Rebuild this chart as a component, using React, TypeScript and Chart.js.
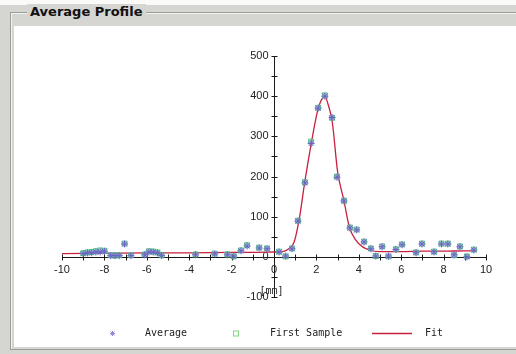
import React, { useEffect, useRef } from 'react';
import { Chart, registerables } from 'chart.js';

Chart.register(...registerables);

// ---- data ----
const averageX = [-9.0, -8.8, -8.6, -8.4, -8.2, -8.0, -7.7, -7.5, -7.3, -7.05, -6.75, -6.1, -5.9, -5.7, -5.5, -5.3, -3.7, -2.8, -2.2, -1.9, -1.56, -1.27, -0.7, -0.33, 0.24, 0.55, 0.85, 1.13, 1.46, 1.75, 2.08, 2.4, 2.74, 2.97, 3.3, 3.58, 3.9, 4.25, 4.57, 4.8, 5.1, 5.4, 5.75, 6.04, 6.7, 6.98, 7.55, 7.9, 8.2, 8.5, 8.77, 9.1, 9.43];
const averageY = [8, 10, 10, 12, 12, 14, 3, 3, 3, 32, 3, 5, 12, 12, 10, 3, 5, 7, 5, 2, 15, 27, 22, 20, 12, 2, 20, 89, 184, 282, 370, 400, 347, 198, 139, 72, 67, 37, 20, 2, 25, 2, 18, 30, 10, 32, 12, 32, 32, 5, 25, 0, 17];
const firstSampleX = [-9.0, -8.8, -8.6, -8.4, -8.2, -8.0, -7.7, -7.5, -7.3, -7.05, -6.75, -6.1, -5.9, -5.7, -5.5, -5.3, -3.7, -2.8, -2.2, -1.9, -1.56, -1.27, -0.7, -0.33, 0.24, 0.55, 0.85, 1.13, 1.46, 1.75, 2.08, 2.4, 2.74, 2.97, 3.3, 3.58, 3.9, 4.25, 4.57, 4.8, 5.1, 5.4, 5.75, 6.04, 6.7, 6.98, 7.55, 7.9, 8.2, 8.5, 8.77, 9.1, 9.43];
const firstSampleY = [9, 11, 12, 14, 16, 15, 4, 3, 4, 33, 4, 6, 14, 13, 11, 4, 6, 8, 6, 1, 16, 29, 23, 21, 13, 1, 21, 90, 186, 287, 371, 402, 346, 200, 140, 73, 68, 38, 21, 2, 26, 1, 19, 31, 11, 33, 13, 33, 33, 4, 26, 1, 18];
const fitX = [-10, -8, -6, -4, -2, -1, 0, 0.4, 0.7, 0.95, 1.2, 1.45, 1.75, 2.05, 2.25, 2.4, 2.55, 2.75, 3.0, 3.3, 3.55, 3.85, 4.15, 4.5, 5.0, 6, 7, 8, 9, 9.5];
const fitY = [8, 9, 10, 10, 11, 11, 12, 13, 20, 37, 97, 186, 280, 362, 392, 398, 380, 335, 212, 140, 75, 42, 26, 17, 13, 13, 14, 14, 15, 15];

const seriesNames = ['Average', 'First Sample', 'Fit'];
const xMin = -10, xMax = 10, xStep = 1, xLabelEvery = 2;
const yMin = -100, yMax = 500, yStep = 50, yLabelEvery = 100;
const axisUnit = '[mm]';

const FIT_COLOR = '#c8203f';
const AVG_COLOR = '#6f5fc8';
const SAMPLE_COLOR = '#5cc48c';
const TICK_FONT = '11px "Liberation Sans", Arial, sans-serif';

const toPoints = (xs: number[], ys: number[]) => xs.map((x, i) => ({ x, y: ys[i] }));

const axesPlugin = {
  id: 'centerAxes',
  beforeDatasetsDraw(chart: any) {
    const { ctx, scales } = chart;
    const xs = scales.x, ys = scales.y;
    const x0 = Math.round(xs.getPixelForValue(0)) + 0.5;
    const y0 = Math.round(ys.getPixelForValue(0)) + 0.5;
    ctx.save();
    ctx.strokeStyle = '#1a1a1a';
    ctx.lineWidth = 1;
    ctx.beginPath();
    ctx.moveTo(xs.getPixelForValue(xMin), y0);
    ctx.lineTo(xs.getPixelForValue(xMax), y0);
    ctx.moveTo(x0, ys.getPixelForValue(yMin));
    ctx.lineTo(x0, ys.getPixelForValue(yMax));
    xs.ticks.forEach((t: any) => {
      const px = Math.round(xs.getPixelForValue(t.value)) + 0.5;
      ctx.moveTo(px, y0 - 3);
      ctx.lineTo(px, y0 + 3);
    });
    ys.ticks.forEach((t: any) => {
      const py = Math.round(ys.getPixelForValue(t.value)) + 0.5;
      ctx.moveTo(x0 - 3, py);
      ctx.lineTo(x0 + 3, py);
    });
    ctx.stroke();

    // tick labels
    ctx.fillStyle = '#222';
    ctx.font = TICK_FONT;
    ctx.textAlign = 'center';
    ctx.textBaseline = 'top';
    xs.ticks.forEach((t: any) => {
      if (Math.round(t.value) % xLabelEvery !== 0) return;
      ctx.fillText(String(t.value), xs.getPixelForValue(t.value), y0 + 7);
    });
    ctx.textAlign = 'right';
    ctx.textBaseline = 'middle';
    ys.ticks.forEach((t: any) => {
      if (Math.round(t.value) % yLabelEvery !== 0) return;
      ctx.fillText(String(t.value), x0 - 6, ys.getPixelForValue(t.value));
    });

    ctx.font = '10px "DejaVu Sans Mono"';
    ctx.textAlign = 'center';
    ctx.textBaseline = 'middle';
    ctx.fillText(axisUnit, x0 - 3, y0 + 34);
    ctx.restore();
  },
};

const legendPlugin = {
  id: 'bottomLegend',
  afterDraw(chart: any) {
    const { ctx } = chart;
    const y = 307.5;
    ctx.save();
    ctx.font = '10px "DejaVu Sans Mono"';
    ctx.fillStyle = '#222';
    ctx.textBaseline = 'middle';
    ctx.textAlign = 'left';
    ctx.lineWidth = 1;
    // Average: asterisk
    ctx.strokeStyle = '#9a86d6';
    const ax = 98.5, r = 2.5;
    ctx.beginPath();
    ctx.moveTo(ax - r, y); ctx.lineTo(ax + r, y);
    ctx.moveTo(ax, y - r); ctx.lineTo(ax, y + r);
    ctx.moveTo(ax - 2, y - 2); ctx.lineTo(ax + 2, y + 2);
    ctx.moveTo(ax - 2, y + 2); ctx.lineTo(ax + 2, y - 2);
    ctx.stroke();
    ctx.fillText(seriesNames[0], 131, y);
    // First Sample: square
    ctx.strokeStyle = '#86d486';
    ctx.strokeRect(219.5, y - 2.5, 5, 5);
    ctx.fillText(seriesNames[1], 256, y);
    // Fit: line
    ctx.strokeStyle = FIT_COLOR;
    ctx.lineWidth = 1.5;
    ctx.beginPath();
    ctx.moveTo(358, y); ctx.lineTo(398, y);
    ctx.stroke();
    ctx.fillText(seriesNames[2], 411, y);
    ctx.restore();
  },
};

function ProfileChart() {
  const ref = useRef<HTMLCanvasElement | null>(null);
  useEffect(() => {
    if (!ref.current) return;
    const chart = new Chart(ref.current, {
      type: 'scatter',
      data: {
        datasets: [
          {
            label: seriesNames[0],
            data: toPoints(averageX, averageY),
            pointStyle: 'star',
            pointRadius: 3.5,
            borderColor: AVG_COLOR,
            backgroundColor: AVG_COLOR,
            borderWidth: 1,
          },
          {
            label: seriesNames[1],
            data: toPoints(firstSampleX, firstSampleY),
            pointStyle: 'rect',
            pointRadius: 3.5,
            borderColor: SAMPLE_COLOR,
            backgroundColor: 'rgba(96,184,176,0.55)',
            borderWidth: 1,
          },
          {
            type: 'line',
            label: seriesNames[2],
            data: toPoints(fitX, fitY),
            showLine: true,
            pointRadius: 0,
            borderColor: FIT_COLOR,
            borderWidth: 1.3,
            cubicInterpolationMode: 'monotone',
            fill: false,
          } as any,
        ],
      },
      options: {
        animation: false,
        responsive: true,
        maintainAspectRatio: false,
        layout: { padding: { left: 48, right: 30, top: 30, bottom: 50 } },
        plugins: { legend: { display: false }, tooltip: { enabled: false } },
        scales: {
          x: {
            type: 'linear',
            min: xMin,
            max: xMax,
            position: { y: 0 } as any,
            afterFit: (s: any) => { s.height = 0; },
            grid: { display: false },
            border: { display: false },
            ticks: { stepSize: xStep, autoSkip: false, maxRotation: 0, display: false },
          },
          y: {
            type: 'linear',
            min: yMin,
            max: yMax,
            position: { x: 0 } as any,
            afterFit: (s: any) => { s.width = 0; },
            grid: { display: false },
            border: { display: false },
            ticks: { stepSize: yStep, autoSkip: false, display: false },
          },
        },
      },
      plugins: [axesPlugin, legendPlugin],
    });
    return () => chart.destroy();
  }, []);
  return <canvas ref={ref} />;
}

export default function App() {
  const gray = '#d5d5d1';
  return (
    <div style={{ position: 'fixed', left: 0, top: 0, width: 516, height: 354, background: gray, overflow: 'hidden' }}>
      <div style={{ position: 'absolute', left: 0, top: 0, width: 516, height: 5, background: '#fafaf8' }} />
      <div style={{ position: 'absolute', left: 10, top: 12, width: 520, height: 336, borderTop: '1px solid #9c9c98', borderLeft: '1px solid #9c9c98', borderBottom: '1px solid #9c9c98', boxShadow: 'inset 1px 1px 0 #f2f2ee' }} />
      <div style={{ position: 'absolute', left: 27, top: 4, padding: '0 3px', background: gray, font: 'bold 13px "DejaVu Sans", sans-serif', color: '#111', lineHeight: '16px' }}>Average Profile</div>
      <div style={{ position: 'absolute', left: 14, top: 26, width: 502, height: 321, background: '#ffffff' }}>
        <ProfileChart />
      </div>
    </div>
  );
}
